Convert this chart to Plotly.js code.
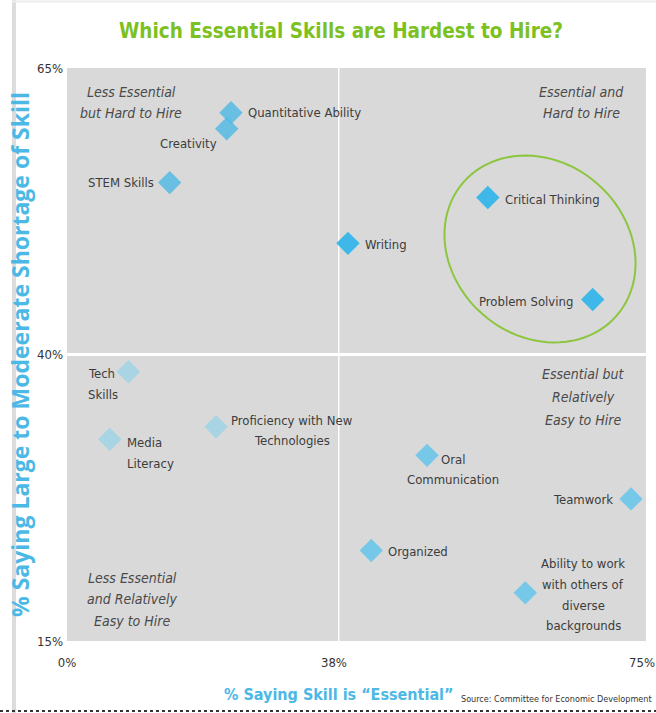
<!DOCTYPE html>
<html>
<head>
<meta charset="utf-8">
<script src="https://cdn.plot.ly/plotly-3.0.1.min.js"></script>
<style>
  html, body { margin: 0; padding: 0; background: #ffffff; }
  #chart { width: 656px; height: 713px; }
</style>
</head>
<body>
<div id="chart"></div>
<script>
// ---- Data ----
const skills = [
  "Quantitative Ability", "Creativity", "STEM Skills", "Writing",
  "Critical Thinking", "Problem Solving", "Tech Skills", "Media Literacy",
  "Proficiency with New Technologies", "Oral Communication", "Teamwork",
  "Organized", "Ability to work with others of diverse backgrounds"
];
const essentialPct = [23.0, 22.4, 14.4, 39.2, 56.0, 68.6, 8.6, 6.0, 20.9, 48.7, 73.2, 42.0, 60.5];
const shortagePct  = [61.1, 59.7, 55.0, 49.7, 53.7, 44.8, 38.5, 32.6, 33.7, 31.2, 27.4, 22.9, 19.2];
const skillLabels = [
  "Quantitative Ability", "Creativity", "STEM Skills", "Writing",
  "Critical Thinking", "Problem Solving", "Tech<br>Skills", "Media<br>Literacy",
  "Proficiency with New<br>Technologies", "Oral<br>Communication", "Teamwork",
  "Organized", "Ability to work<br>with others of<br>diverse<br>backgrounds"
];
const xTickVals = [0, 38, 75];
const xTickText = ["0%", "38%", "75%"];
const yTickVals = [15, 40, 65];
const yTickText = ["15%", "40%", "65%"];
const essentialSplit = 38;
const shortageSplit = 40;
const quadrantTitles = [
  "Less Essential<br>but Hard to Hire",
  "Essential and<br>Hard to Hire",
  "Essential but<br>Relatively<br>Easy to Hire",
  "Less Essential<br>and Relatively<br>Easy to Hire"
];

// ---- Styling / placement (not data) ----
const W = 656, H = 713;
const L = 67, R = 10, T = 68, B = 72;
const PW = W - L - R, PH = H - T - B;
const splitFrac = 0.468;
const narrow = "'DejaVu Sans Condensed', 'Liberation Sans Narrow', sans-serif";
const textGray = "#3c3c3c";

const quadColors = {
  tl: "rgba(80,185,228,0.82)",
  tr: "#3db8e8",
  br: "#76c8e9",
  bl: "#a8d4e4"
};
function quadOf(x, y) {
  const right = x >= essentialSplit, top = y >= shortageSplit;
  return top ? (right ? "tr" : "tl") : (right ? "br" : "bl");
}

// label placement: [xanchor, xshift, yshift of block centre, line gap]
const labelPlace = {
  "Quantitative Ability": ["left", 15, 0, 21],
  "Creativity": ["right", -8, -15, 21],
  "STEM Skills": ["right", -14, 0, 21],
  "Writing": ["left", 15, -1, 21],
  "Critical Thinking": ["left", 15, -2, 21],
  "Problem Solving": ["right", -18, -2, 21],
  "Tech Skills": ["left", -42, -12.5, 21],
  "Media Literacy": ["left", 15, -13.5, 21],
  "Proficiency with New Technologies": ["center", 76, -4, 20],
  "Oral Communication": ["center", 26, -14, 20],
  "Teamwork": ["right", -16, -1, 21],
  "Organized": ["left", 15, -1, 21],
  "Ability to work with others of diverse backgrounds": ["center", 58, -2, 20.7]
};

// ---- Traces ----
const left = {x: [], y: [], c: [], t: []}, right = {x: [], y: [], c: [], t: []};
skills.forEach((s, i) => {
  const g = essentialPct[i] < essentialSplit ? left : right;
  g.x.push(essentialPct[i]); g.y.push(shortagePct[i]);
  g.c.push(quadColors[quadOf(essentialPct[i], shortagePct[i])]);
  g.t.push(s);
});
function mk(g, xa) {
  return {
    type: "scatter", mode: "markers", x: g.x, y: g.y, text: g.t,
    xaxis: xa, yaxis: "y", cliponaxis: false, hoverinfo: "text",
    marker: {symbol: "diamond", size: 18, color: g.c, line: {width: 0}}
  };
}
const data = [mk(left, "x"), mk(right, "x2")];

// ---- Annotations ----
const annotations = [];
function addLines(base, text, gap, centreShift) {
  const lines = text.split("<br>");
  const n = lines.length;
  lines.forEach((ln, k) => {
    annotations.push(Object.assign({}, base, {
      text: base.italic ? "<i>" + ln + "</i>" : ln,
      yshift: centreShift + gap * ((n - 1) / 2 - k)
    }));
  });
}
skills.forEach((s, i) => {
  const p = labelPlace[s];
  addLines({
    x: essentialPct[i], y: shortagePct[i],
    xref: essentialPct[i] < essentialSplit ? "x" : "x2", yref: "y",
    showarrow: false, xanchor: p[0], yanchor: "middle", xshift: p[1],
    font: {family: narrow, size: 13, color: textGray}
  }, skillLabels[i], p[3], p[2]);
});
function px2paperX(px) { return (px - L) / PW; }
function px2paperY(py) { return (T + PH - py) / PH; }
// quadrant titles: [centre x px, centre y px, line gap]
const quadPix = [[131, 102.5, 21], [581, 102.5, 21], [583, 397, 23], [132, 599, 21.5]];
quadrantTitles.forEach((q, i) => {
  const base = {
    xref: "paper", yref: "paper",
    x: px2paperX(quadPix[i][0]), y: px2paperY(quadPix[i][1]),
    showarrow: false, xanchor: "center", yanchor: "middle", italic: true,
    font: {family: narrow, size: 14, color: "#4a4a4a"}
  };
  addLines(base, q, quadPix[i][2], 0);
});
annotations.forEach(a => { delete a.italic; });
// x axis title & source
annotations.push({
  xref: "paper", yref: "paper", x: px2paperX(339), y: px2paperY(694),
  text: "<b>% Saying Skill is \u201cEssential\u201d</b>", showarrow: false,
  xanchor: "center", yanchor: "middle",
  font: {family: narrow, size: 16, color: "#4cb8e6"}
});
annotations.push({
  xref: "paper", yref: "paper", x: px2paperX(459), y: px2paperY(699),
  text: "Source: Committee for Economic Development", showarrow: false,
  xanchor: "left", yanchor: "middle",
  font: {family: narrow, size: 9, color: "#333333"}
});

// ---- Shapes ----
const ell = {cx: 540, cy: 249, a: 101.6, b: 86.9, th: 41 * Math.PI / 180};
let path = "";
for (let k = 0; k <= 96; k++) {
  const t = 2 * Math.PI * k / 96;
  const dx = ell.a * Math.cos(t), dy = ell.b * Math.sin(t);
  const X = ell.cx + dx * Math.cos(ell.th) - dy * Math.sin(ell.th);
  const Y = ell.cy + dx * Math.sin(ell.th) + dy * Math.cos(ell.th);
  path += (k === 0 ? "M" : "L") + px2paperX(X).toFixed(5) + "," + px2paperY(Y).toFixed(5);
}
path += "Z";

const shapes = [
  {type: "line", xref: "x2", yref: "paper", x0: essentialSplit, x1: essentialSplit, y0: 0, y1: 1,
   line: {color: "#ffffff", width: 3}, layer: "below"},
  {type: "line", xref: "paper", yref: "y", x0: 0, x1: 1, y0: shortageSplit, y1: shortageSplit,
   line: {color: "#ffffff", width: 3}, layer: "below"},
  {type: "path", xref: "paper", yref: "paper", path: path,
   line: {color: "#8cc63f", width: 2}, fillcolor: "rgba(0,0,0,0)"},
  {type: "rect", xref: "paper", yref: "paper", x0: px2paperX(12), x1: px2paperX(16),
   y0: px2paperY(713), y1: px2paperY(0), fillcolor: "#dcdcdc", line: {width: 0}},
  {type: "line", xref: "paper", yref: "paper", x0: px2paperX(12), x1: px2paperX(656),
   y0: px2paperY(1.5), y1: px2paperY(1.5), line: {color: "#ececec", width: 2}},
  {type: "line", xref: "paper", yref: "paper", x0: px2paperX(0), x1: px2paperX(656),
   y0: px2paperY(711), y1: px2paperY(711), line: {color: "#333333", width: 2, dash: "dot"}}
];

const axisCommon = {
  showgrid: false, zeroline: false, showline: false, ticks: "",
  tickfont: {family: narrow, size: 13, color: "#333333"}, fixedrange: true,
  ticklabeloverflow: "allow"
};

const layout = {
  width: W, height: H,
  margin: {l: L, r: R, t: T, b: B, pad: 0},
  paper_bgcolor: "#ffffff", plot_bgcolor: "#d9d9d9",
  showlegend: false,
  title: {
    text: "<b>Which Essential Skills are Hardest to Hire?</b>",
    font: {family: narrow, size: 20.5, color: "#7cc11f"},
    x: 341 / W, xanchor: "center", y: 1 - 31 / H, yanchor: "middle"
  },
  xaxis: Object.assign({}, axisCommon, {
    domain: [0, splitFrac], range: [0, essentialSplit], anchor: "y",
    tickvals: xTickVals.filter(v => v < essentialSplit),
    ticktext: xTickText.filter((t, i) => xTickVals[i] < essentialSplit),
    ticklabelstandoff: 12
  }),
  xaxis2: Object.assign({}, axisCommon, {
    domain: [splitFrac, 1], range: [essentialSplit, 75], anchor: "y",
    tickvals: xTickVals.filter(v => v >= essentialSplit),
    ticktext: xTickText.filter((t, i) => xTickVals[i] >= essentialSplit),
    ticklabelstandoff: 12, ticklabelshift: -4
  }),
  yaxis: Object.assign({}, axisCommon, {
    range: [15, 65], anchor: "x", tickvals: yTickVals, ticktext: yTickText,
    ticklabelstandoff: 3,
    title: {
      text: "<b>% Saying Large to Modeerate Shortage of Skill</b>",
      font: {family: "'Open Sans', sans-serif", size: 23, color: "#4cb8e6"},
      standoff: 0
    }
  }),
  annotations: annotations,
  shapes: shapes
};

Plotly.newPlot("chart", data, layout, {displayModeBar: false, staticPlot: true});
</script>
</body>
</html>
